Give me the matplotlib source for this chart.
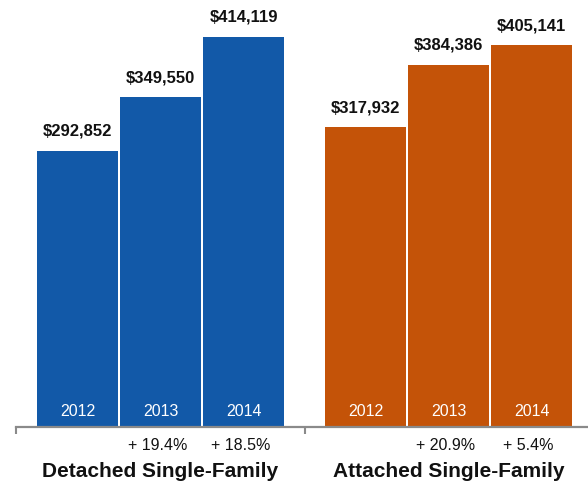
import numpy as np
import matplotlib.pyplot as plt

plt.rcParams['font.family'] = ['Liberation Sans', 'DejaVu Sans']

# Median sale prices by type and year
groups = ['Detached Single-Family', 'Attached Single-Family']
years = ['2012', '2013', '2014']
detached = [292852, 349550, 414119]
attached = [317932, 384386, 405141]
detached_chg = ['', '+ 19.4%', '+ 18.5%']
attached_chg = ['', '+ 20.9%', '+ 5.4%']

colors = ['#1259a8', '#c45308']
group_step = 3.47      # distance between group starts, in bar units
bar_w = 0.976

fig = plt.figure(figsize=(5.88, 4.85), dpi=100)
W, H = 588, 485
base_px = 428
ax = fig.add_axes([16 / W, (H - base_px) / H, (W - 16) / W, base_px / H])

series = [detached, attached]
changes = [detached_chg, attached_chg]

for g, (vals, chg) in enumerate(zip(series, changes)):
    x = np.arange(len(vals)) + g * group_step
    ax.bar(x, vals, width=bar_w, color=colors[g], linewidth=0)
    for xi, v, yr, c in zip(x, vals, years, chg):
        # dollar value above the bar
        ax.annotate(f'${v:,}', xy=(xi, v), xytext=(0, 11.5), textcoords='offset points',
                    ha='center', va='baseline', fontsize=12, fontweight='bold', color='#111111')
        # year inside the bar
        ax.annotate(yr, xy=(xi, 0), xytext=(0, 8.6), textcoords='offset points',
                    ha='center', va='baseline', fontsize=11.5, color='white')
        # year-over-year change under the axis
        if c:
            ax.annotate(c, xy=(xi, 0), xytext=(-2, -15.8), textcoords='offset points',
                        ha='center', va='baseline', fontsize=11.5, color='#111111',
                        annotation_clip=False)
    ax.annotate(groups[g], xy=(x[1], 0), xytext=(0, -35.3), textcoords='offset points',
                ha='center', va='baseline', fontsize=15, fontweight='bold', color='#111111',
                annotation_clip=False)

ax.set_xlim(-0.741, -0.741 + (W - 16) / 83)
ax.set_ylim(0, 454000)

# separators between groups
ax.set_xticks([-0.735, 2 + (group_step - 2) / 2])
ax.set_xticklabels([])
ax.set_yticks([])
ax.tick_params(axis='x', direction='out', length=5, width=1.5, color='#8a8a8a')

for s in ['top', 'right', 'left']:
    ax.spines[s].set_visible(False)
ax.spines['bottom'].set_color('#8a8a8a')
ax.spines['bottom'].set_linewidth(1.6)
ax.patch.set_alpha(0)

fig.savefig('out.png', dpi=100)
